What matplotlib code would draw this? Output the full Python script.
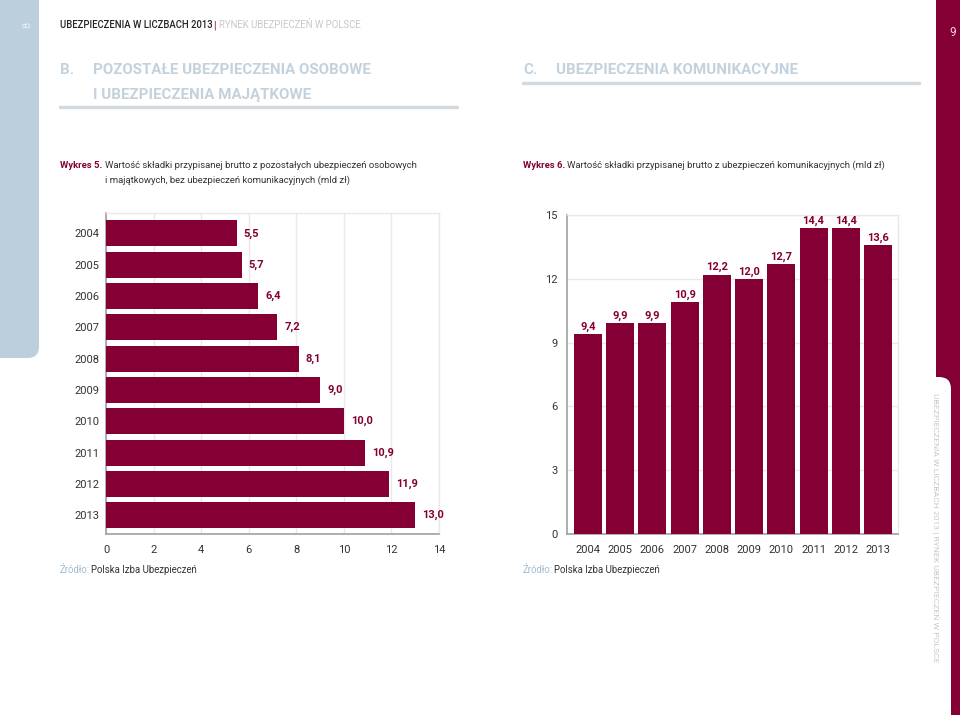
import matplotlib
matplotlib.use("Agg")
import matplotlib.pyplot as plt
from matplotlib.patches import Rectangle, FancyBboxPatch

plt.rcParams['font.family'] = ['Roboto', 'DejaVu Sans']

# ---------------- data ----------------
years = ["2004", "2005", "2006", "2007", "2008", "2009", "2010", "2011", "2012", "2013"]
other_values = [5.5, 5.7, 6.4, 7.2, 8.1, 9.0, 10.0, 10.9, 11.9, 13.0]
motor_values = [9.4, 9.9, 9.9, 10.9, 12.2, 12.0, 12.7, 14.4, 14.4, 13.6]
left_xticks = [0, 2, 4, 6, 8, 10, 12, 14]
right_yticks = [0, 3, 6, 9, 12, 15]

MAROON = "#840034"
BLUEGRAY = "#bccfdd"
TITLE_C = "#c3d2dd"
GRID = "#e9e9e9"
SPINE = "#a0a0a0"
TXT = "#333333"

W, H = 960, 715
fig = plt.figure(figsize=(W / 100, H / 100), dpi=100)
fig.patch.set_facecolor("white")

# overlay in pixel coordinates
ov = fig.add_axes([0, 0, 1, 1], zorder=0)
ov.set_xlim(0, W)
ov.set_ylim(H, 0)
ov.axis("off")

# left band
ov.add_patch(FancyBboxPatch((-40, -40), 79, 398, boxstyle="round,pad=0,rounding_size=11",
                            fc=BLUEGRAY, ec="none"))
# right band
ov.add_patch(Rectangle((936, -10), 40, 400, fc=MAROON, ec="none"))
ov.add_patch(Rectangle((951, 370), 20, 360, fc=MAROON, ec="none"))
ov.add_patch(FancyBboxPatch((880, 377), 71, 400, boxstyle="round,pad=0,rounding_size=12",
                            fc="white", ec="none"))

# page numbers
ov.text(27, 25, "8", rotation=90, color="#e8eef3", fontsize=8, ha="center", va="center")
ov.text(953, 33, "9", color="#f0d6df", fontsize=8.5, ha="center", va="center")

# header
ov.text(60, 25, "UBEZPIECZENIA W LICZBACH 2013", color="#222222", fontsize=6.85,
        fontweight="medium", ha="left", va="center")
ov.text(214, 25, "|", color=MAROON, fontsize=7.5, ha="center", va="center")
ov.text(219, 25, "RYNEK UBEZPIECZEŃ W POLSCE", color="#c8c8c8", fontsize=6.95,
        ha="left", va="center")

# section titles
TS = 10.9
ov.text(60, 70, "B.", color=TITLE_C, fontsize=TS, fontweight="bold", ha="left", va="center")
ov.text(93, 70, "POZOSTAŁE UBEZPIECZENIA OSOBOWE", color=TITLE_C, fontsize=TS,
        fontweight="bold", ha="left", va="center")
ov.text(93, 95, "I UBEZPIECZENIA MAJĄTKOWE", color=TITLE_C, fontsize=TS,
        fontweight="bold", ha="left", va="center")
ov.plot([60, 457], [107, 107], color="#d2d9df", lw=2.5, solid_capstyle="round")

ov.text(523, 70, "C.", color=TITLE_C, fontsize=TS, fontweight="bold", ha="left", va="center")
ov.text(556, 70, "UBEZPIECZENIA KOMUNIKACYJNE", color=TITLE_C, fontsize=TS,
        fontweight="bold", ha="left", va="center")
ov.plot([523, 919], [83, 83], color="#d2d9df", lw=2.5, solid_capstyle="round")

# captions
ov.text(60, 165, "Wykres 5.", color=MAROON, fontsize=6.8, fontweight="bold", ha="left", va="center")
ov.text(105, 165, "Wartość składki przypisanej brutto z pozostałych ubezpieczeń osobowych",
        color=TXT, fontsize=6.8, ha="left", va="center")
ov.text(105, 180, "i majątkowych, bez ubezpieczeń komunikacyjnych (mld zł)",
        color=TXT, fontsize=6.8, ha="left", va="center")
ov.text(523, 165, "Wykres 6.", color=MAROON, fontsize=6.8, fontweight="bold", ha="left", va="center")
ov.text(567, 165, "Wartość składki przypisanej brutto z ubezpieczeń komunikacyjnych (mld zł)",
        color=TXT, fontsize=6.8, ha="left", va="center")

# sources
ov.text(60, 570, "Źródło:", color="#9fbdd0", fontsize=6.9, ha="left", va="center")
ov.text(91, 570, "Polska Izba Ubezpieczeń", color=TXT, fontsize=6.9, ha="left", va="center")
ov.text(523, 570, "Źródło:", color="#9fbdd0", fontsize=6.9, ha="left", va="center")
ov.text(554, 570, "Polska Izba Ubezpieczeń", color=TXT, fontsize=6.9, ha="left", va="center")

# vertical text
ov.text(935, 528, "UBEZPIECZENIA W LICZBACH 2013 | RYNEK UBEZPIECZEŃ W POLSCE",
        rotation=-90, color="#c8c8c8", fontsize=6.1, ha="center", va="center")


def px_axes(left, top, right, bottom):
    return fig.add_axes([left / W, (H - bottom) / H, (right - left) / W, (bottom - top) / H], zorder=2)


# ---------------- left chart (horizontal bars) ----------------
ax1 = px_axes(106, 213, 439, 534)
ypos = list(range(len(years)))
ax1.barh(ypos, other_values, height=0.83, color=MAROON, zorder=3)
ax1.set_xlim(0, 14)
ax1.set_ylim(9.6, -0.65)
ax1.set_xticks(left_xticks)
ax1.set_xticklabels([str(t) for t in left_xticks])
ax1.set_yticks(ypos)
ax1.set_yticklabels(years)
ax1.xaxis.grid(True, color=GRID, lw=1, zorder=0)
ax1.set_axisbelow(True)
ax1.tick_params(length=0, labelsize=8, colors=TXT)
ax1.tick_params(axis="x", pad=8)
ax1.tick_params(axis="y", pad=5)
for s in ["left", "bottom"]:
    ax1.spines[s].set_color(SPINE)
    ax1.spines[s].set_linewidth(1.2)
for s in ["top", "right"]:
    ax1.spines[s].set_color(GRID)
    ax1.spines[s].set_linewidth(1)
for y, v in zip(ypos, other_values):
    ax1.annotate(f"{v:.1f}".replace(".", ","), (v, y), xytext=(5, 0), textcoords="offset points",
                 ha="left", va="center", color=MAROON, fontsize=8, fontweight="bold")

# ---------------- right chart (vertical bars) ----------------
ax2 = px_axes(567, 215, 898, 534)
xpos = list(range(len(years)))
ax2.bar(xpos, motor_values, width=0.87, color=MAROON, zorder=3)
ax2.set_ylim(0, 15)
ax2.set_xlim(-0.65, 9.62)
ax2.set_yticks(right_yticks)
ax2.set_yticklabels([str(t) for t in right_yticks])
ax2.set_xticks(xpos)
ax2.set_xticklabels(years)
ax2.yaxis.grid(True, color=GRID, lw=1, zorder=0)
ax2.set_axisbelow(True)
ax2.tick_params(length=0, labelsize=8, colors=TXT)
ax2.tick_params(axis="x", pad=8)
ax2.tick_params(axis="y", pad=7)
for s in ["left", "bottom"]:
    ax2.spines[s].set_color(SPINE)
    ax2.spines[s].set_linewidth(1.2)
for s in ["top", "right"]:
    ax2.spines[s].set_color(GRID)
    ax2.spines[s].set_linewidth(1)
for x, v in zip(xpos, motor_values):
    ax2.annotate(f"{v:.1f}".replace(".", ","), (x, v), xytext=(0, 1.5), textcoords="offset points",
                 ha="center", va="bottom", color=MAROON, fontsize=8, fontweight="bold")

fig.savefig("out.png", dpi=100, facecolor="white")
